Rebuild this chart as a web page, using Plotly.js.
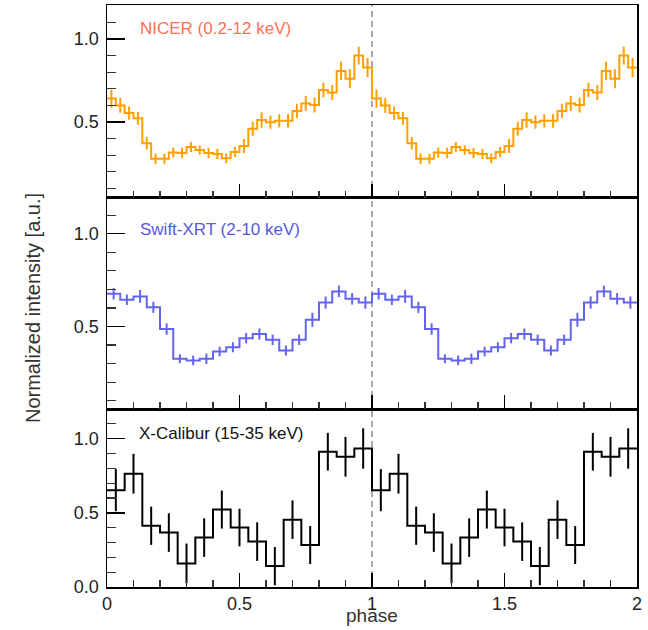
<!DOCTYPE html>
<html>
<head>
<meta charset="utf-8">
<script src="https://cdn.plot.ly/plotly-3.0.1.min.js"></script>
<style>html,body{margin:0;padding:0;background:#fff;}#chart{width:648px;height:630px;}</style>
</head>
<body>
<div id="chart"></div>
<script>
// ---- data (one phase cycle; drawn twice, phase 0-2) ----
const nicerLabel = "NICER (0.2-12 keV)";
const swiftLabel = "Swift-XRT (2-10 keV)";
const xcalLabel = "X-Calibur (15-35 keV)";
const xTitle = "phase";
const yTitle = "Normalized intensity [a.u.]";

const nicer = [0.641,0.600,0.554,0.522,0.372,0.279,0.279,0.316,0.313,0.349,
               0.331,0.313,0.307,0.281,0.319,0.356,0.459,0.512,0.499,0.507,
               0.507,0.567,0.612,0.602,0.693,0.678,0.808,0.761,0.900,0.828];
const nicerErr = [0.055,0.044,0.040,0.038,0.038,0.032,0.030,0.030,0.032,0.030,
                  0.029,0.031,0.032,0.030,0.030,0.042,0.042,0.047,0.040,0.040,
                  0.042,0.043,0.045,0.045,0.044,0.045,0.055,0.057,0.053,0.058];

const swift = [0.676,0.644,0.662,0.603,0.486,0.326,0.317,0.326,0.365,0.388,
               0.437,0.459,0.428,0.370,0.428,0.536,0.629,0.689,0.649,0.629];
const swiftErr = [0.031,0.028,0.035,0.030,0.031,0.024,0.026,0.028,0.026,0.027,
                  0.028,0.030,0.028,0.027,0.028,0.038,0.033,0.031,0.031,0.033];

const xcal = [0.653,0.764,0.413,0.367,0.159,0.333,0.522,0.401,0.306,0.141,
              0.454,0.283,0.912,0.878,0.934];
const xcalErr = [0.142,0.134,0.129,0.130,0.134,0.130,0.128,0.127,0.130,0.129,
                 0.130,0.128,0.127,0.134,0.136];

const nCycles = 2;

// ---- build traces ----
function stepTrace(vals, xa, ya, color) {
  const n = vals.length, w = 1 / n, x = [], y = [];
  for (let c = 0; c < nCycles; c++) for (let i = 0; i < n; i++) { x.push(c + i * w); y.push(vals[i]); }
  x.push(nCycles); y.push(vals[n - 1]);
  return {x, y, xaxis: xa, yaxis: ya, type: 'scatter', mode: 'lines',
          line: {shape: 'hv', color, width: 2}, hoverinfo: 'skip', showlegend: false};
}
function errTrace(vals, errs, xa, ya, color) {
  const n = vals.length, w = 1 / n, x = [], y = [], e = [];
  for (let c = 0; c < nCycles; c++) for (let i = 0; i < n; i++) { x.push(c + (i + 0.5) * w); y.push(vals[i]); e.push(errs[i]); }
  return {x, y, xaxis: xa, yaxis: ya, type: 'scatter', mode: 'markers',
          marker: {size: 0.1, color, opacity: 0},
          error_y: {type: 'data', array: e, visible: true, color, thickness: 2, width: 0},
          hoverinfo: 'skip', showlegend: false};
}

const cNicer = '#FFA000', cSwift = '#6464F2', cXcal = '#000000';
const data = [
  stepTrace(nicer, 'x3', 'y3', cNicer), errTrace(nicer, nicerErr, 'x3', 'y3', cNicer),
  stepTrace(swift, 'x2', 'y2', cSwift), errTrace(swift, swiftErr, 'x2', 'y2', cSwift),
  stepTrace(xcal, 'x', 'y', cXcal), errTrace(xcal, xcalErr, 'x', 'y', cXcal)
];

const font = 'Liberation Sans, Arial, Helvetica, sans-serif';
function xAxis(anchor, labels) {
  return {anchor, domain: [0, 1], range: [0, 2], showgrid: false, zeroline: false,
    showline: true, mirror: true, linecolor: '#000', linewidth: 1.5,
    ticks: 'inside', tick0: 0, dtick: 0.5, ticklen: 14, tickwidth: 1.5, tickcolor: '#000',
    minor: {ticks: 'inside', dtick: 0.1, tick0: 0, ticklen: 7, tickwidth: 1.2, tickcolor: '#333', showgrid: false},
    showticklabels: labels, ticklabelstandoff: 0, tickfont: {family: font, size: 18, color: '#222'}};
}
function yAxis(domain, range) {
  return {domain: domain, range: range, showgrid: false, zeroline: false,
    showline: true, mirror: true, linecolor: '#000', linewidth: 1.5,
    ticks: 'inside', tick0: 0, dtick: 0.5, ticklen: 18, tickwidth: 1.5, tickcolor: '#000',
    minor: {ticks: 'inside', dtick: 0.1, tick0: 0, ticklen: 9, tickwidth: 1.2, tickcolor: '#333', showgrid: false},
    tickformat: '.1f', ticklabelstandoff: 3, tickfont: {family: font, size: 18, color: '#222'}};
}

const xa1 = xAxis('y', true);
const ya1 = yAxis([0, 0.3058], [0, 1.2]); ya1.anchor = 'x';
const ya2 = yAxis([0.3058, 0.6692], [0.055, 1.195]); ya2.anchor = 'x2';
const ya3 = yAxis([0.6692, 1], [0.045, 1.205]); ya3.anchor = 'x3';

const layout = {
  width: 648, height: 630,
  margin: {l: 107, r: 11, t: 5, b: 43, pad: 0},
  paper_bgcolor: '#fff', plot_bgcolor: '#fff',
  font: {family: font, color: '#222'},
  showlegend: false,
  xaxis: xa1, xaxis2: xAxis('y2', false), xaxis3: xAxis('y3', false),
  yaxis: ya1, yaxis2: ya2, yaxis3: ya3,
  shapes: [{type: 'line', xref: 'x', yref: 'paper', x0: 1, x1: 1, y0: 0, y1: 1,
            line: {color: '#555', width: 1, dash: '6px,4px'}, layer: 'below'}],
  annotations: [
    {text: nicerLabel, xref: 'paper', yref: 'paper', x: 0.0585, y: 0.9588, xanchor: 'left', yanchor: 'middle',
     showarrow: false, font: {family: font, size: 17, color: '#FF7055'}},
    {text: swiftLabel, xref: 'paper', yref: 'paper', x: 0.0585, y: 0.614, xanchor: 'left', yanchor: 'middle',
     showarrow: false, font: {family: font, size: 17, color: '#5858E0'}},
    {text: xcalLabel, xref: 'paper', yref: 'paper', x: 0.0565, y: 0.2646, xanchor: 'left', yanchor: 'middle',
     showarrow: false, font: {family: font, size: 17, color: '#111'}},
    {text: xTitle, xref: 'paper', yref: 'paper', x: 0.5, y: -0.0495, xanchor: 'center', yanchor: 'middle',
     showarrow: false, borderpad: 0, font: {family: font, size: 19, color: '#333'}},
    {text: yTitle, xref: 'paper', yref: 'paper', x: -0.14, y: 0.479, xanchor: 'center', yanchor: 'middle',
     textangle: -90, showarrow: false, font: {family: font, size: 20, color: '#333'}}
  ]
};

Plotly.newPlot('chart', data, layout, {displayModeBar: false, staticPlot: true});
</script>
</body>
</html>
